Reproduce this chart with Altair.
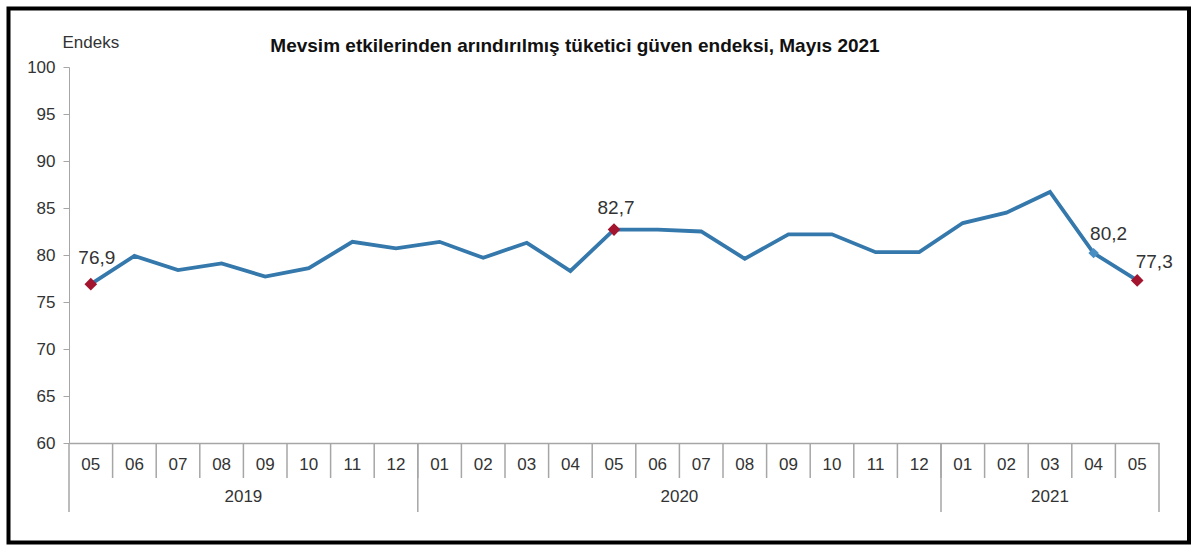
import altair as alt
import pandas as pd

# Monthly seasonally adjusted consumer confidence index, May 2019 - May 2021
months = ["05", "06", "07", "08", "09", "10", "11", "12",
          "01", "02", "03", "04", "05", "06", "07", "08", "09", "10", "11", "12",
          "01", "02", "03", "04", "05"]
years = ["2019"] * 8 + ["2020"] * 12 + ["2021"] * 5
values = [76.9, 79.9, 78.4, 79.1, 77.7, 78.6, 81.4, 80.7,
          81.4, 79.7, 81.3, 78.3, 82.7, 82.7, 82.5, 79.6, 82.2, 82.2, 80.3, 80.3,
          83.4, 84.5, 86.7, 80.2, 77.3]
# points that carry a value label
labelled = [0, 12, 23, 24]
red_points = [0, 12, 24]

FONT = "Liberation Sans"
TXT = "#333333"
LINE = "#3478AC"
RED = "#A3152E"
SEP = "#A6A6A6"

W, H = 1090, 376

df = pd.DataFrame({"idx": list(range(len(values))), "month": months,
                   "year": years, "value": values})
df["label"] = df["value"].map(lambda v: f"{v:.1f}".replace(".", ","))

xs = alt.Scale(domain=[-0.5, len(values) - 0.5], nice=False, zero=False)
ys = alt.Scale(domain=[60, 100], nice=False, zero=False)

x_enc = alt.X("idx:Q", scale=xs,
              axis=alt.Axis(labels=False, ticks=False, grid=False, title=None,
                            domainColor=SEP, domainWidth=1.5))
y_enc = alt.Y("value:Q", scale=ys,
              axis=alt.Axis(values=list(range(60, 101, 5)), grid=False,
                            domainColor=SEP, tickColor=SEP, tickSize=6,
                            labelPadding=8, labelFont=FONT, labelFontSize=17,
                            labelColor=TXT, title="Endeks", titleAngle=0,
                            titleX=-7, titleY=-25, titleAlign="left",
                            titleBaseline="middle", titleFont=FONT,
                            titleFontSize=17, titleFontWeight="normal",
                            titleColor=TXT))

base = alt.Chart(df)

line = base.mark_line(color=LINE, strokeWidth=3.8).encode(x=x_enc, y=y_enc)

red = base.transform_filter(
    alt.FieldOneOfPredicate(field="idx", oneOf=red_points)
).mark_point(shape="diamond", filled=True, color=RED, size=160, opacity=1).encode(
    x=alt.X("idx:Q", scale=xs), y=alt.Y("value:Q", scale=ys))

blue = base.transform_filter(alt.datum.idx == 23).mark_point(
    shape="diamond", filled=True, color="#4A8FC4", size=110, opacity=1
).encode(x=alt.X("idx:Q", scale=xs), y=alt.Y("value:Q", scale=ys))

# value labels, each nudged above its point
offsets = {0: (6, -26), 12: (2, -22), 23: (15, -19), 24: (17, -18)}
label_layers = []
for i in labelled:
    dx, dy = offsets[i]
    label_layers.append(
        base.transform_filter(alt.datum.idx == i).mark_text(
            font=FONT, fontSize=19, color=TXT, dx=dx, dy=dy,
            align="center", baseline="middle"
        ).encode(x=alt.X("idx:Q", scale=xs), y=alt.Y("value:Q", scale=ys),
                 text="label:N"))

# category axis: month cells and year groups below the plot
month_bounds = pd.DataFrame({"b": [i + 0.5 for i in range(len(values) - 1)]})
month_sep = alt.Chart(month_bounds).mark_rule(color=SEP, strokeWidth=1.5).encode(
    x=alt.X("b:Q", scale=xs), y=alt.value(H), y2=alt.value(H + 35))

year_edges = [-0.5]
for k in range(1, len(years)):
    if years[k] != years[k - 1]:
        year_edges.append(k - 0.5)
year_edges.append(len(years) - 0.5)
year_sep = alt.Chart(pd.DataFrame({"b": year_edges})).mark_rule(
    color=SEP, strokeWidth=1.5).encode(
    x=alt.X("b:Q", scale=xs), y=alt.value(H), y2=alt.value(H + 69))

month_txt = base.mark_text(font=FONT, fontSize=17, color=TXT,
                           baseline="middle").encode(
    x=alt.X("idx:Q", scale=xs), y=alt.value(H + 22), text="month:N")

year_df = df.groupby("year", as_index=False)["idx"].mean()
year_txt = alt.Chart(year_df).mark_text(font=FONT, fontSize=17, color=TXT,
                                        baseline="middle").encode(
    x=alt.X("idx:Q", scale=xs), y=alt.value(H + 54), text="year:N")

title = alt.Chart(pd.DataFrame({"t": ["Mevsim etkilerinden arındırılmış tüketici güven endeksi, Mayıs 2021"]})).mark_text(
    font=FONT, fontSize=19, fontWeight="bold", color="#111111",
    align="center", baseline="middle").encode(
    x=alt.value(506), y=alt.value(-21), text="t:N")

frame = alt.Chart(pd.DataFrame({"f": [0]})).mark_rect(
    fillOpacity=0, stroke="black", strokeWidth=4).encode(
    x=alt.value(-60.5), x2=alt.value(1120), y=alt.value(-58.5), y2=alt.value(475.5))

chart = alt.layer(
    month_sep, year_sep, line, blue, red, *label_layers,
    month_txt, year_txt, title, frame
).properties(
    width=W, height=H,
    autosize=alt.AutoSizeParams(type="none"),
    padding={"left": 69, "top": 67, "right": 41, "bottom": 113},
    background="white"
).configure_view(stroke=None)

chart.save("out.html", embed_options={"renderer": "svg", "actions": False})
